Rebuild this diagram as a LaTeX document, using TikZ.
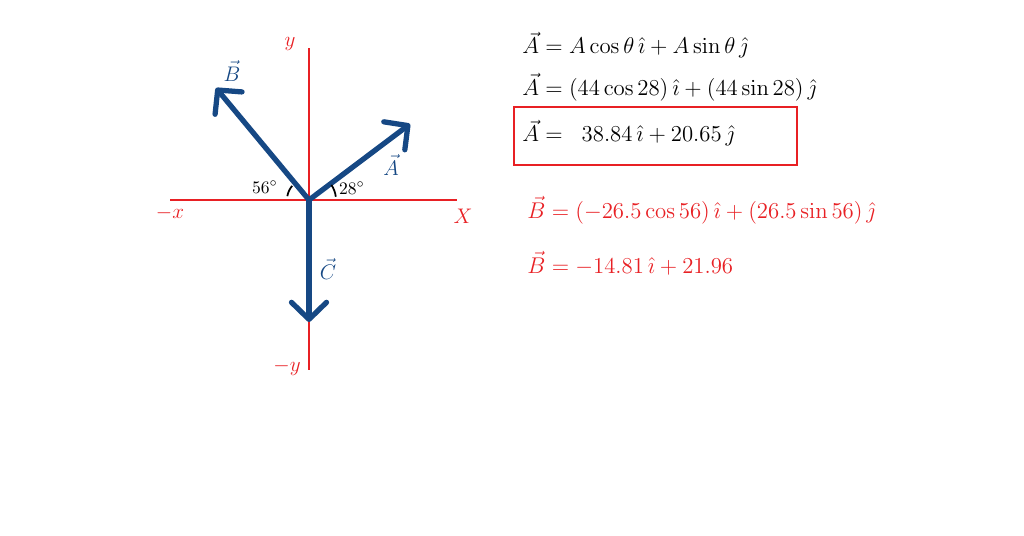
\documentclass[tikz,border=0pt]{standalone}
\usepackage{amsmath}
\usetikzlibrary{arrows.meta}
\definecolor{vecblue}{RGB}{22,72,132}
\definecolor{axred}{RGB}{232,32,36}
\newcommand{\ihat}{\,\hat{\imath}}
\newcommand{\jhat}{\,\hat{\jmath}}

\begin{document}
\begin{tikzpicture}[x=0.2mm,y=0.2mm,
    axis/.style={draw=axred,line width=1pt},
    vecline/.style={draw=vecblue,line width=3pt,line cap=round,
      -{Straight Barb[length=3.4mm,width=7mm,line width=3pt,round]}},
    axlabel/.style={text=axred,font=\large},
    veclabel/.style={text=vecblue,font=\large},
    eqn/.style={anchor=west,font=\large,scale=1.08,inner sep=0pt}]
    \useasboundingbox (0,0) rectangle (1024,536);
    % axes
    \coordinate (O) at (309,336);
    \coordinate (xneg) at (170,336);
    \coordinate (xpos) at (457,336);
    \coordinate (ypos) at (309,488);
    \coordinate (yneg) at (309,166);
    \path[axis] (xneg) -- (xpos);
    \path[axis] (yneg) -- (ypos);
    \node[axlabel] (lxneg) at (170,323) {$-x$};
    \node[axlabel] (lxpos) at (463,320) {$X$};
    \node[axlabel] (lypos) at (290,492) {$y$};
    \node[axlabel] (lyneg) at (287,169) {$-y$};
    % vectors
    \coordinate (tipA) at (410,412);
    \coordinate (tipB) at (216,448);
    \coordinate (tipC) at (309,214);
    \path[vecline] (O) -- (tipA);
    \path[vecline] (O) -- (tipB);
    \path[vecline] (O) -- (tipC);
    \node[veclabel] (lA) at (391,371) {$\vec{A}$};
    \node[veclabel] (lB) at (232,465) {$\vec{B}$};
    \node[veclabel] (lC) at (328,267) {$\vec{C}$};
    % angles
    \draw[line width=1pt] (O) ++(7:27) arc (7:34:27);
    \draw[line width=1pt] (O) ++(140:22) arc (140:170:22);
    \node (a28) at (352,348) {$28^{\circ}$};
    \node (a56) at (265,349) {$56^{\circ}$};
    % equations
    \node[eqn] (eqA1) at (522,491) {$\vec{A} = A\cos\theta\ihat + A\sin\theta\jhat$};
    \node[eqn] (eqA2) at (522,449) {$\vec{A} = (44\cos 28)\ihat + (44\sin 28)\jhat$};
    \node[eqn] (eqA3) at (522,403) {$\vec{A} = \;\;38.84\ihat + 20.65\jhat$};
    \draw[axred,line width=1pt] (514,371) rectangle (797,429);
    \node[eqn,text=axred] (eqB1) at (527,326) {$\vec{B} = (-26.5\cos 56)\ihat + (26.5\sin 56)\jhat$};
    \node[eqn,text=axred] (eqB2) at (527,273) {$\vec{B} = -14.81\ihat + 21.96$};
\end{tikzpicture}
\end{document}
